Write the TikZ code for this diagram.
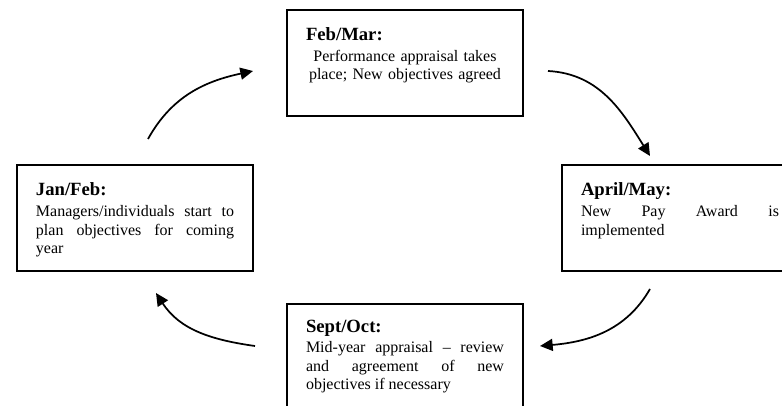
\documentclass[tikz,border=0pt]{standalone}
\usepackage{fontspec}
\setmainfont{Liberation Serif}
\usetikzlibrary{arrows.meta}
\newcommand{\phasehead}[1]{\makebox[\linewidth][l]{\fontsize{14}{16}\selectfont\bfseries #1}\par\vspace{1.75pt}}
\tikzset{
phase/.style={draw,line width=1.4pt,outer sep=0pt,anchor=north west,inner xsep=14.25pt,inner ysep=0pt,text width=148.5pt,text height=23.25pt,text depth=56.25pt,align=justify,font=\fontsize{12}{13.75}\selectfont},
cyclearrow/.style={-{Triangle[length=9.5pt,width=9pt]},line width=1.3pt}
}
\begin{document}
\begin{tikzpicture}[x=0.75pt,y=0.75pt]
\useasboundingbox (0,0) rectangle (782,-406);
\clip (0,0) rectangle (782,-406);
\node[phase,align=center](feb) at (287,-10){\phasehead{Feb/Mar:}Performance appraisal takes\\place; New objectives agreed};
\node[phase](jan) at (17,-165){\phasehead{Jan/Feb:}Managers/individuals start to\linebreak plan objectives for coming\linebreak year};
\node[phase](apr) at (562,-165){\phasehead{April/May:}New Pay Award is\linebreak implemented};
\node[phase,text height=21pt,text depth=58.5pt](sep) at (287,-304){\phasehead{Sept/Oct:}Mid-year appraisal – review\linebreak and agreement of new\linebreak objectives if necessary};
\coordinate (a1s) at (148,-139);\coordinate (a1e) at (253,-71);
\coordinate (a2s) at (548,-71);\coordinate (a2e) at (650,-156);
\coordinate (a3s) at (650,-289);\coordinate (a3e) at (540,-346);
\coordinate (a4s) at (255,-346);\coordinate (a4e) at (156,-293);
\draw[cyclearrow](a1s) to[out=61,in=192] (a1e);
\draw[cyclearrow](a2s) to[out=-3,in=122] (a2e);
\draw[cyclearrow](a3s) to[out=240,in=5] (a3e);
\draw[cyclearrow](a4s) to[out=172,in=303] (a4e);
\end{tikzpicture}
\end{document}
